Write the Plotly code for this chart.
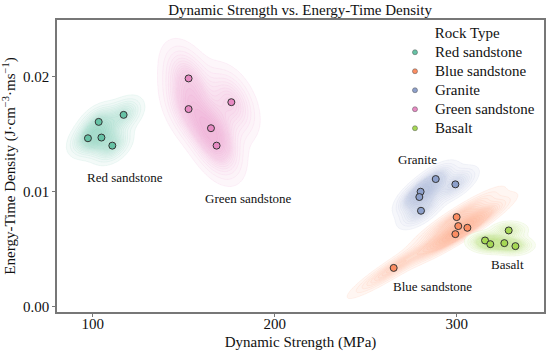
import numpy as np
import plotly.graph_objects as go

# ---- data ----
rock_types = ["Red sandstone", "Blue sandstone", "Granite", "Green sandstone", "Basalt"]
colors = ["#66c2a5", "#fc8d62", "#8da0cb", "#e78ac3", "#a6d854"]

red_strength = [97.4, 103.3, 104.8, 110.8, 117.0]
red_density = [0.01464, 0.01606, 0.01470, 0.01400, 0.01667]
blue_strength = [300.0, 300.9, 305.9, 299.3, 265.4]
blue_density = [0.00780, 0.00702, 0.00687, 0.00632, 0.00339]
granite_strength = [288.5, 299.3, 280.2, 279.5, 280.4]
granite_density = [0.01110, 0.01064, 0.01000, 0.00954, 0.00835]
green_strength = [152.7, 152.7, 176.2, 165.0, 168.1]
green_density = [0.01983, 0.01717, 0.01777, 0.01551, 0.01400]
basalt_strength = [315.6, 318.5, 326.2, 328.6, 332.3]
basalt_density = [0.00577, 0.00545, 0.00554, 0.00664, 0.00528]

strengths = [red_strength, blue_strength, granite_strength, green_strength, basalt_strength]
densities = [red_density, blue_density, granite_density, green_density, basalt_density]

label_x = [117.6, 286.8, 278.6, 185.7, 328.0]
label_y = [0.0112, 0.0018, 0.01276, 0.00945, 0.00369]

FONT = "Liberation Serif, Times New Roman, Times, serif"


def hex_rgb(h):
    h = h.lstrip("#")
    return tuple(int(h[i:i + 2], 16) for i in (0, 2, 4))


def tint(rgb, a):
    return "rgb(%d,%d,%d)" % tuple(round(255 - a * (255 - c)) for c in rgb)


def kde_grid(xs, ys, gridsize=200, cut=3):
    data = np.vstack([xs, ys])
    n, d = data.shape[1], 2
    factor = n ** (-1.0 / (d + 4))
    cov = np.cov(data) * factor ** 2
    inv = np.linalg.inv(cov)
    bw = np.sqrt(np.diag(cov))
    gx = np.linspace(min(xs) - cut * bw[0], max(xs) + cut * bw[0], gridsize)
    gy = np.linspace(min(ys) - cut * bw[1], max(ys) + cut * bw[1], gridsize)
    X, Y = np.meshgrid(gx, gy)
    pts = np.stack([X.ravel(), Y.ravel()], axis=1)
    dens = np.zeros(pts.shape[0])
    for i in range(n):
        diff = pts - data[:, i]
        m = np.einsum("ij,jk,ik->i", diff, inv, diff)
        dens += np.exp(-0.5 * m)
    order = np.argsort(dens)
    cum = np.cumsum(dens[order]) / dens.sum()
    prop = np.empty_like(dens)
    prop[order] = cum
    return gx, gy, prop.reshape(X.shape)


fig = go.Figure()

start, size, end = 0.04, 0.05, 0.941
nc = int(np.floor((end - start) / size)) + 1

for name, col, xs, ys in zip(rock_types, colors, strengths, densities):
    gx, gy, z = kde_grid(xs, ys)
    rgb = hex_rgb(col)
    cs = [[0, "rgba(255,255,255,0)"],
          [1.0 / nc, tint(rgb, 0.08)],
          [1, tint(rgb, 0.58)]]
    fig.add_trace(go.Contour(
        x=gx, y=gy, z=z,
        autocontour=False,
        contours=dict(start=start, end=end, size=size, coloring="fill"),
        colorscale=cs, showscale=False,
        line=dict(width=0.5, color="rgba(%d,%d,%d,0.18)" % rgb),
        hoverinfo="skip", showlegend=False,
    ))

for name, col, xs, ys in zip(rock_types, colors, strengths, densities):
    fig.add_trace(go.Scatter(
        x=xs, y=ys, mode="markers", name=name, showlegend=False,
        marker=dict(size=7, color=col, line=dict(color="#333333", width=1)),
    ))
    fig.add_trace(go.Scatter(
        x=[None], y=[None], mode="markers",
        name='<span style="font-size:15px">%s</span>' % name,
        marker=dict(size=5, color=col, line=dict(color="#555555", width=0.5)),
    ))

for name, lx, ly in zip(rock_types, label_x, label_y):
    fig.add_annotation(x=lx, y=ly, text=name, showarrow=False,
                       font=dict(family=FONT, size=13, color="#111"))

fig.update_layout(
    width=550, height=351,
    margin=dict(l=57, r=6, t=20, b=39),
    paper_bgcolor="white", plot_bgcolor="white",
    font=dict(family=FONT, size=15, color="#111"),
    title=dict(text="Dynamic Strength vs. Energy-Time Density",
               x=0.5455, xanchor="center", y=1 - 10 / 351, yanchor="middle",
               font=dict(family=FONT, size=15, color="#111")),
    legend=dict(x=0.694, xanchor="left", y=1.006, yanchor="top",
                bgcolor="rgba(0,0,0,0)", font=dict(family=FONT, size=11, color="#111"),
                title=dict(text="Rock Type", side="top center",
                           font=dict(family=FONT, size=15)),
                itemwidth=30),
    xaxis=dict(range=[80.4, 348], dtick=100, tick0=0, showgrid=False, zeroline=False,
               showline=True, mirror=True, linecolor="#777", linewidth=1.5,
               ticks="outside", ticklen=3, tickcolor="#777", automargin=False,
               ticklabelstandoff=-6,
               title=dict(text="Dynamic Strength (MPa)", standoff=6,
                          font=dict(family=FONT, size=15))),
    yaxis=dict(range=[-0.000435, 0.0249], dtick=0.01, tick0=0, tickformat=".2f",
               showgrid=False, zeroline=False, automargin=False,
               showline=True, mirror=True, linecolor="#777", linewidth=1.5,
               ticks="outside", ticklen=3, tickcolor="#777",
               title=dict(text="Energy-Time Density (J·cm<sup>−3</sup>·ms<sup>−1</sup>)",
                          standoff=4, font=dict(family=FONT, size=15))),
)

fig.write_html("out.html", config={"displayModeBar": False},
               post_script="document.body.style.margin='0';document.body.style.padding='0';")
